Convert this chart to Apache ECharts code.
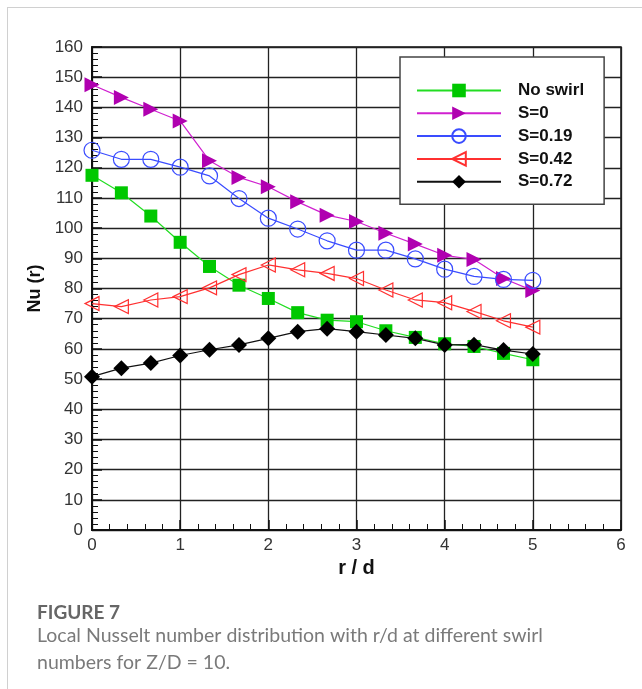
<!DOCTYPE html>
<html>
<head>
<meta charset="utf-8">
<script src="https://cdn.jsdelivr.net/npm/echarts@6.0.0/dist/echarts.min.js"></script>
<style>
  html, body { margin: 0; padding: 0; background: #fff; }
  #frame { position: absolute; left: 7px; top: 7px; width: 635px; height: 682px;
           border-left: 1px solid #d0d0d0; border-top: 1px solid #d0d0d0; }
  #main { position: absolute; left: 0; top: 0; width: 642px; height: 689px; }
</style>
</head>
<body>
<div id="frame"></div>
<div id="main"></div>
<script>
// r/d positions of the measurement points
const rd = [0, 0.333, 0.667, 1, 1.333, 1.667, 2, 2.333, 2.667, 3, 3.333, 3.667, 4, 4.333, 4.667, 5];

// Nu(r)
const noSwirl = [117.5, 111.7, 104, 95.3, 87.3, 81.1, 76.7, 72, 69.5, 69, 66, 63.8, 61.7, 60.8, 58.5, 56.4];
const s0 = [147.5, 143.3, 139.4, 135.5, 122.3, 116.8, 113.7, 108.7, 104.3, 102.2, 98.3, 94.7, 91, 89.6, 83.3, 79.3];
const s019 = [125.8, 122.8, 122.8, 120.2, 117.3, 109.8, 103.3, 99.7, 95.8, 92.7, 92.7, 89.8, 86.4, 84, 83, 82.7];
const s042 = [75, 74, 76.2, 77.3, 80.2, 84.6, 87.8, 86.2, 85, 83.3, 79.5, 76.2, 75.3, 72.4, 69.3, 67.2];
const s072 = [50.8, 53.6, 55.3, 57.8, 59.7, 61.3, 63.5, 65.7, 66.7, 65.7, 64.6, 63.5, 61.3, 61.4, 59.6, 58.3];

const seriesNames = ['No swirl', 'S=0', 'S=0.19', 'S=0.42', 'S=0.72'];
const xTicks = { min: 0, max: 6, interval: 1 };
const yTicks = { min: 0, max: 160, interval: 10 };

const zip = (ys) => rd.map((x, i) => [x, ys[i]]);

const chart = echarts.init(document.getElementById('main'));

const font = "'Liberation Sans', Arial, sans-serif";
const capFont = "Lato, 'Open Sans', sans-serif";

chart.setOption({
  animation: false,
  title: {
    text: 'FIGURE 7',
    subtext: 'Local Nusselt number distribution with r/d at different swirl\nnumbers for Z/D = 10.',
    left: 32,
    top: 598,
    itemGap: 0,
    textStyle: { fontFamily: capFont, fontSize: 19, fontWeight: 'bold', color: '#666' },
    subtextStyle: { fontFamily: capFont, fontSize: 19.5, color: '#7a7a7a', lineHeight: 27 }
  },
  grid: {
    left: 92, top: 47, right: 21, bottom: 159,
    show: true, borderColor: '#111', borderWidth: 1.5, backgroundColor: 'transparent'
  },
  legend: {
    data: seriesNames,
    orient: 'vertical',
    left: 400,
    top: 57,
    padding: [25, 20, 14, 16],
    itemWidth: 84,
    itemHeight: 17,
    itemGap: 5.8,
    backgroundColor: '#fff',
    borderColor: '#444',
    borderWidth: 1.5,
    borderRadius: 0,
    textStyle: { fontFamily: font, fontSize: 17, fontWeight: 'bold', color: '#111', padding: [0, 0, 0, 12] }
  },
  xAxis: {
    type: 'value',
    min: xTicks.min, max: xTicks.max, interval: xTicks.interval,
    name: 'r / d',
    nameLocation: 'middle',
    nameGap: 27,
    nameTextStyle: { fontFamily: font, fontSize: 20, fontWeight: 'bold', color: '#111' },
    axisLine: { lineStyle: { color: '#111', width: 2 } },
    axisTick: { inside: true, length: 10, lineStyle: { color: '#111', width: 1.5 } },
    minorTick: { show: true, splitNumber: 5, length: 6, lineStyle: { color: '#111', width: 1 } },
    axisLabel: { fontFamily: font, fontSize: 17, color: '#333', margin: 7 },
    splitLine: { show: true, lineStyle: { color: '#222', width: 1.3 } }
  },
  yAxis: {
    type: 'value',
    min: yTicks.min, max: yTicks.max, interval: yTicks.interval,
    name: 'Nu (r)',
    nameLocation: 'middle',
    nameGap: 43,
    nameTextStyle: { fontFamily: font, fontSize: 18, fontWeight: 'bold', color: '#111' },
    axisLine: { lineStyle: { color: '#111', width: 2 } },
    axisTick: { inside: true, length: 10, lineStyle: { color: '#111', width: 1.5 } },
    minorTick: { show: true, splitNumber: 5, length: 6, lineStyle: { color: '#111', width: 1 } },
    axisLabel: { fontFamily: font, fontSize: 17, color: '#333', margin: 9 },
    splitLine: { show: true, lineStyle: { color: '#222', width: 1.3 } }
  },
  series: [
    {
      name: seriesNames[0], type: 'line', data: zip(noSwirl),
      symbol: 'rect', symbolSize: 13,
      lineStyle: { color: '#22dd22', width: 1.2 },
      itemStyle: { color: '#00c800' }
    },
    {
      name: seriesNames[1], type: 'line', data: zip(s0),
      symbol: 'triangle', symbolSize: 15, symbolRotate: -90,
      lineStyle: { color: '#d020d0', width: 1.2 },
      itemStyle: { color: '#b000b0' }
    },
    {
      name: seriesNames[2], type: 'line', data: zip(s019),
      symbol: 'circle', symbolSize: 16,
      lineStyle: { color: '#3a4cff', width: 1.2 },
      itemStyle: { color: 'transparent', borderColor: '#3a4cff', borderWidth: 1.2 }
    },
    {
      name: seriesNames[3], type: 'line', data: zip(s042),
      symbol: 'triangle', symbolSize: 14, symbolRotate: 90,
      lineStyle: { color: '#ff3030', width: 1.2 },
      itemStyle: { color: 'transparent', borderColor: '#ff3030', borderWidth: 1.2 }
    },
    {
      name: seriesNames[4], type: 'line', data: zip(s072),
      symbol: 'diamond', symbolSize: 16,
      lineStyle: { color: '#111', width: 1.2 },
      itemStyle: { color: '#000' }
    }
  ]
});
</script>
</body>
</html>
